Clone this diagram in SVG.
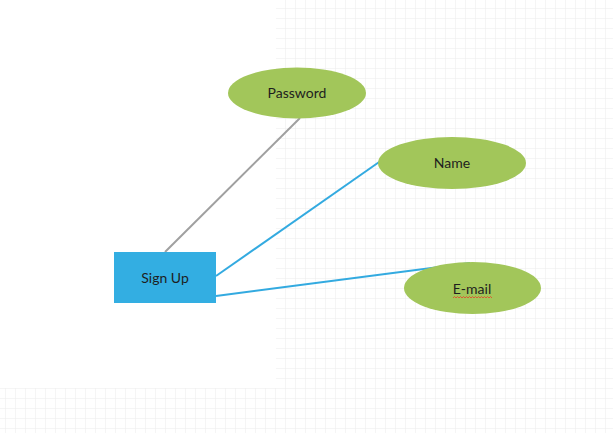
<svg xmlns="http://www.w3.org/2000/svg" width="613" height="433" viewBox="0 0 613 433">
<defs>
<pattern id="grid" x="5" y="8" width="10" height="10" patternUnits="userSpaceOnUse">
<path d="M0 0H10M0 0V10" fill="none" stroke="#ececec" stroke-width="1"/>
</pattern>
<style>
.ent{fill:#a2c65a}
.lbl{font-family:Lato,"Open Sans",sans-serif;font-size:14px;fill:#1e1e1e;text-anchor:middle;dominant-baseline:central}
.blue{stroke:#33aae0;stroke-width:2;fill:none}
.gray{stroke:#a0a0a0;stroke-width:2;fill:none}
</style>
</defs>
<rect width="613" height="433" fill="#ffffff"/>
<rect x="276" y="0" width="337" height="388" fill="url(#grid)"/>
<rect x="0" y="388" width="613" height="45" fill="url(#grid)"/>
<g id="connectors">
<line class="gray" x1="165" y1="252" x2="300" y2="118"/>
<line class="blue" x1="216" y1="276" x2="382" y2="160"/>
<line class="blue" x1="216" y1="296" x2="470" y2="263"/>
</g>
<g id="signup">
<rect x="114" y="252" width="102" height="51" fill="#33aee2"/>
<text class="lbl" x="165" y="277">Sign Up</text>
</g>
<g id="password">
<ellipse class="ent" cx="297" cy="93" rx="69" ry="25.5"/>
<text class="lbl" x="297" y="92">Password</text>
</g>
<g id="name">
<ellipse class="ent" cx="452" cy="163" rx="74" ry="26"/>
<text class="lbl" x="452" y="162">Name</text>
</g>
<g id="email">
<ellipse class="ent" cx="472.5" cy="288" rx="68.5" ry="26"/>
<text class="lbl" x="472" y="288">E-mail</text>
<path d="M453 298l1.5-1.5 1.5 1.5 1.5-1.5 1.5 1.5 1.5-1.5 1.5 1.5 1.5-1.5 1.5 1.5 1.5-1.5 1.5 1.5 1.5-1.5 1.5 1.5 1.5-1.5 1.5 1.5 1.5-1.5 1.5 1.5 1.5-1.5 1.5 1.5 1.5-1.5 1.5 1.5 1.5-1.5 1.5 1.5 1.5-1.5 1.5 1.5 1.5-1.5 1.5 1.5" fill="none" stroke="#e8402a" stroke-width="0.8"/>
</g>
</svg>
